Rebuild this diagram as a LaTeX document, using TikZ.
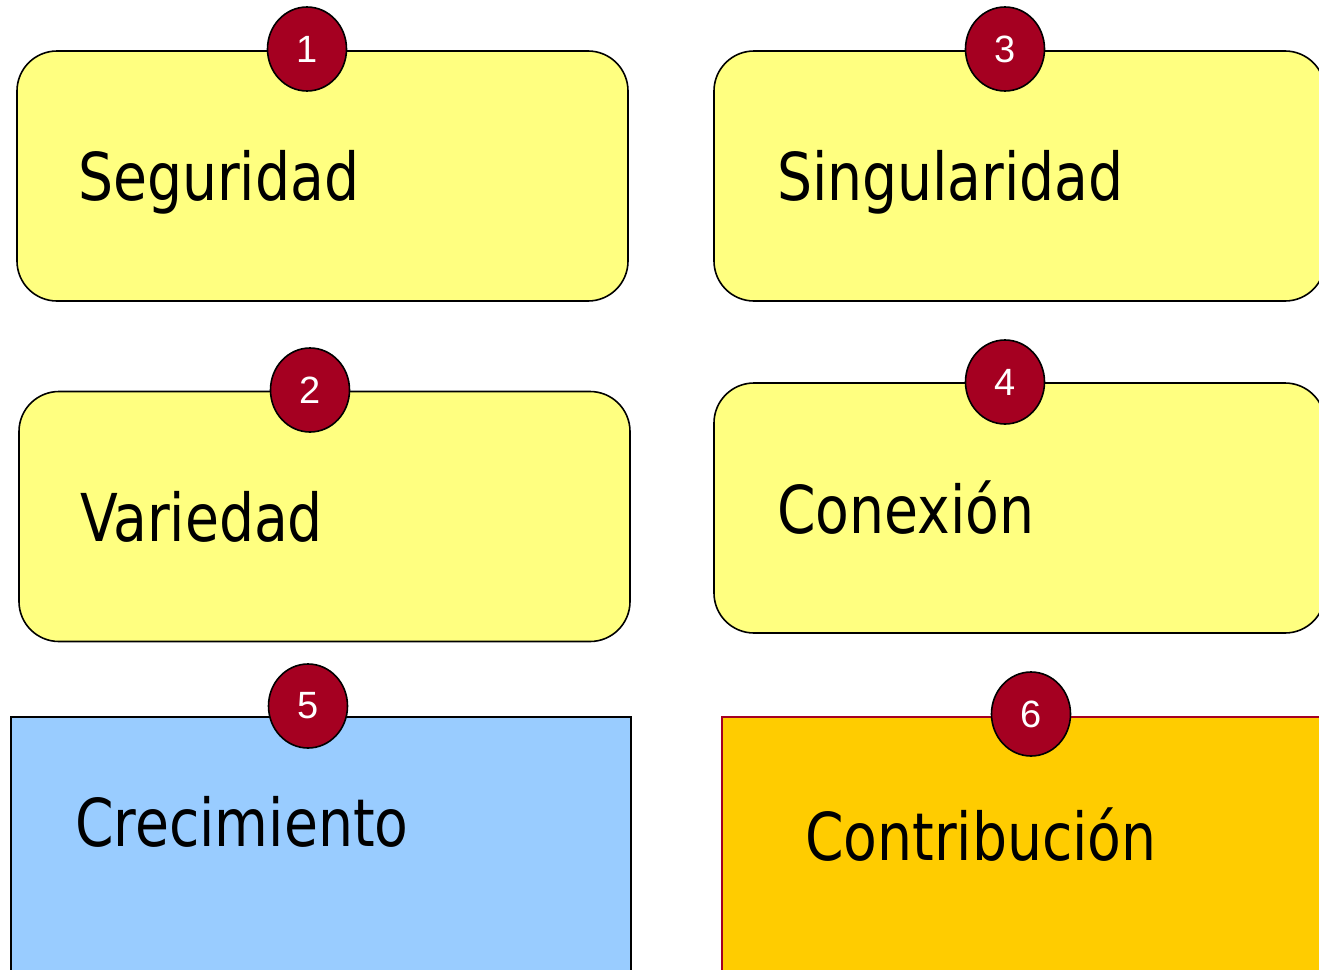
\documentclass[tikz,border=0pt]{standalone}
\usepackage{fontspec}
\setmainfont[FakeStretch=0.93]{DejaVu Sans Condensed}
\newfontfamily\numfont{Liberation Sans}
\usetikzlibrary{positioning,calc,shapes.geometric}

\definecolor{notayellow}{RGB}{255,255,128}
\definecolor{notablue}{RGB}{153,204,255}
\definecolor{notagold}{RGB}{255,204,0}
\definecolor{pinred}{RGB}{165,0,33}

\begin{document}
\begin{tikzpicture}[
	x=1pt, y=-1pt,
	card/.style = {rectangle, rounded corners=40pt, draw=black, line width=1.6pt,
		fill=notayellow, minimum width=611pt, minimum height=250pt, inner sep=0pt},
	sheet/.style = {rectangle, draw=black, line width=1.2pt,
		minimum width=620pt, minimum height=300pt, inner sep=0pt},
	pin/.style = {ellipse, draw=black, line width=1.6pt, fill=pinred,
		minimum width=79pt, minimum height=84pt, inner sep=0pt,
		text=white, font=\numfont\fontsize{38}{40}\selectfont},
	word/.style = {anchor=base west, inner sep=0pt,
		font=\fontsize{66}{70}\selectfont},
	]
	\clip (0,0) rectangle (1319,969);
	\fill[white] (0,0) rectangle (1319,969);

	% tarjetas amarillas
	\node[card] (B1) at (322.5,176) {};
	\node[card] (B2) at (324.5,516.5) {};
	\node[card] (B3) at (1019.5,176) {};
	\node[card] (B4) at (1019.5,508) {};

	% hojas de abajo
	\node[sheet, fill=notablue] (B5) at (321,867) {};
	\node[sheet, fill=notagold, draw=pinred] (B6) at (1032,867) {};

	% textos
	\node[word] (T1) at (78,200) {Seguridad};
	\node[word] (T2) at (80,541) {Variedad};
	\node[word] (T3) at (777,200) {Singularidad};
	\node[word] (T4) at (777,533) {Conexión};
	\node[word] (T5) at (75,846) {Crecimiento};
	\node[word] (T6) at (805,860) {Contribución};

	% numeros
	\node[pin] (P1) at (307,49) {1};
	\node[pin] (P2) at (310,390) {2};
	\node[pin] (P3) at (1005,49) {3};
	\node[pin] (P4) at (1005,382) {4};
	\node[pin] (P5) at (308,706) {5};
	\node[pin] (P6) at (1031,714) {6};
\end{tikzpicture}
\end{document}
